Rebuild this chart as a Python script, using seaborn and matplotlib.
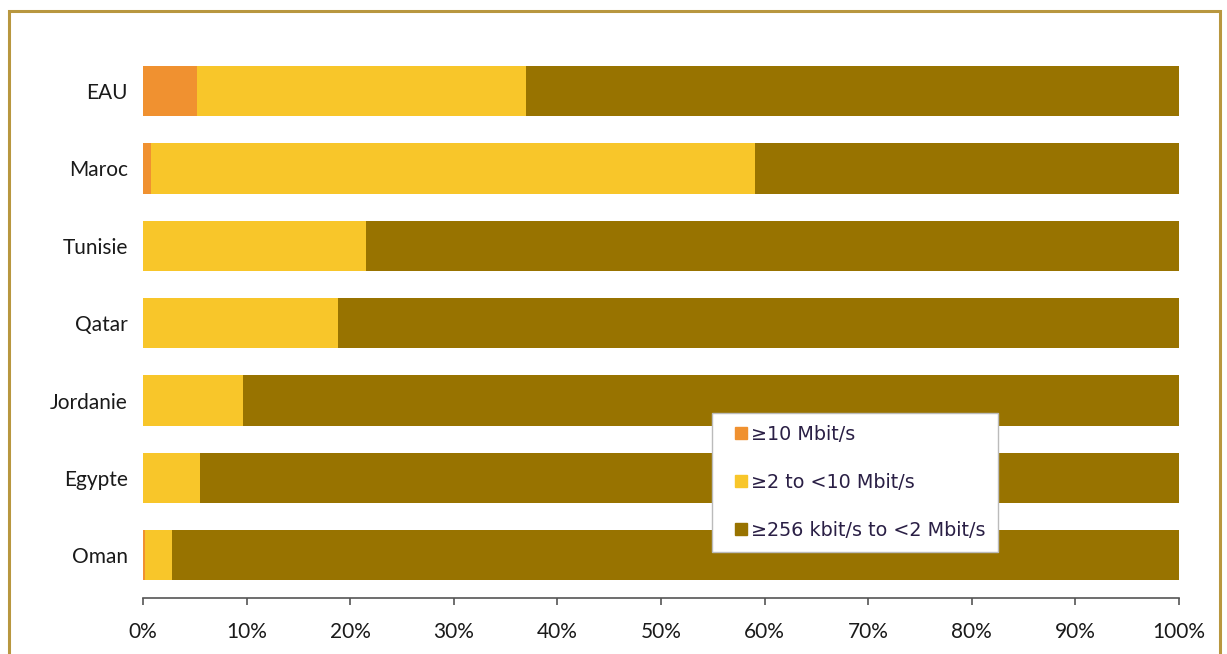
import matplotlib
matplotlib.use("Agg")
import matplotlib.pyplot as plt
from matplotlib.lines import Line2D
from matplotlib.patches import Rectangle
from matplotlib.ticker import PercentFormatter
import seaborn as sns
import pandas as pd
import numpy as np

# Share of fixed broadband subscriptions by advertised speed (%)
countries = ["EAU", "Maroc", "Tunisie", "Qatar", "Jordanie", "Egypte", "Oman"]
speed_10_plus = [5.2, 0.8, 0.0, 0.0, 0.0, 0.0, 0.2]
speed_2_to_10 = [31.8, 58.3, 21.5, 18.8, 9.7, 5.5, 2.6]
speed_256k_to_2 = [63.0, 40.9, 78.5, 81.2, 90.3, 94.5, 97.2]

labels = ["\u226510 Mbit/s", "\u22652 to <10 Mbit/s", "\u2265256 kbit/s to <2 Mbit/s"]
colors = ["#F09130", "#F8C62A", "#987300"]

df = pd.DataFrame({
    "country": countries,
    "s10": speed_10_plus,
    "s2": speed_2_to_10,
    "s256": speed_256k_to_2,
})
df["cum_s10"] = df["s10"]
df["cum_s2"] = df["s10"] + df["s2"]
df["cum_s256"] = df["cum_s2"] + df["s256"]

sns.set_theme(style="white")
plt.rcParams["font.family"] = ["Lato", "DejaVu Sans"]

fig = plt.figure(figsize=(12.27, 6.54), dpi=100)
ax = fig.add_axes([0.1165, 0.0917, 0.8444, 0.8284])

# Stacked horizontal bars: draw cumulative totals from largest to smallest
for col, color in [("cum_s256", colors[2]), ("cum_s2", colors[1]), ("cum_s10", colors[0])]:
    sns.barplot(data=df, x=col, y="country", order=countries, color=color,
                width=0.65, orient="h", ax=ax, linewidth=0, saturation=1)

ax.set_xlim(0, 100)
ax.set_ylim(6.5, -0.5)
ax.set_xticks(np.arange(0, 101, 10))
ax.xaxis.set_major_formatter(PercentFormatter(decimals=0))
ax.set_xlabel("")
ax.set_ylabel("")

for side in ["top", "right", "left"]:
    ax.spines[side].set_visible(False)
ax.spines["bottom"].set_color("#555555")
ax.spines["bottom"].set_linewidth(1.2)
ax.spines["bottom"].set_position(("outward", 3))
ax.tick_params(axis="x", bottom=True, direction="out", length=5, width=1.2,
               color="#555555", labelsize=15, labelcolor="#1a1a1a", pad=12)
ax.tick_params(axis="y", left=False, length=0, labelsize=15,
               labelcolor="#1a1a1a", pad=11)

handles = [Line2D([0], [0], marker="s", linestyle="", markersize=8,
                  markerfacecolor=c, markeredgecolor=c) for c in colors]
leg = ax.legend(handles, labels, loc="lower left", bbox_to_anchor=(0.549, 0.0775),
                frameon=True, fancybox=False, labelspacing=1.5,
                handlelength=1.7, handletextpad=-0.3, borderpad=0.65,
                borderaxespad=0, labelcolor="#2a1f45",
                prop={"family": "DejaVu Sans", "size": 13.8})
leg.get_frame().set_edgecolor("#BBBBBB")
leg.get_frame().set_linewidth(1.0)
leg.get_frame().set_facecolor("white")
leg.get_frame().set_alpha(1)

# Outer frame around the chart area
fig.patches.append(Rectangle((9 / 1227, -0.05), 1211 / 1227, 1 - 11 / 654 + 0.05,
                             transform=fig.transFigure, fill=False,
                             edgecolor="#B8973F", linewidth=2.2))

fig.savefig("out.png", dpi=100)
